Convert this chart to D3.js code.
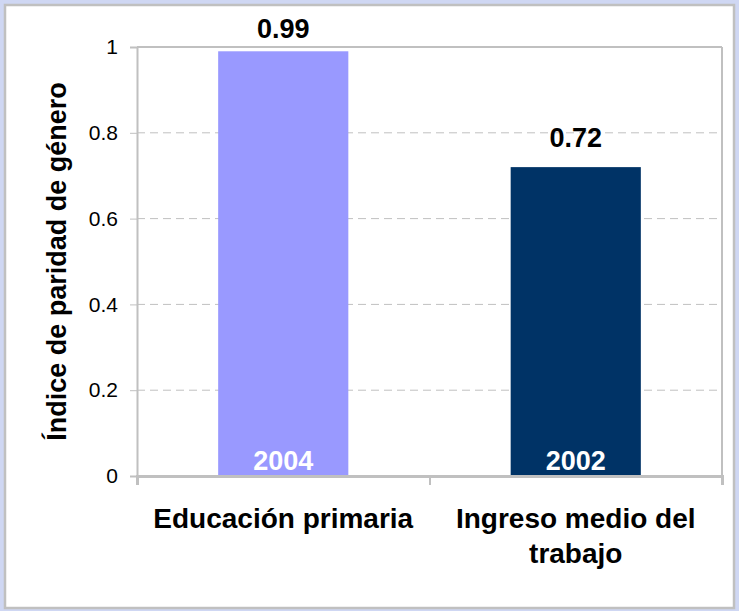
<!DOCTYPE html>
<html lang="es">
<head>
<meta charset="UTF-8">
<title>Índice de paridad de género</title>
<script src="https://d3js.org/d3.v7.min.js"></script>
<style>
  body { margin: 0; background: #cfd7f3; font-family: "Liberation Sans", Arial, sans-serif; }
  svg { display: block; }
  .grid line { stroke: #c0c0c0; stroke-dasharray: 8,5; }
</style>
</head>
<body>
<svg width="739" height="611"></svg>
<script>
// datos
const categories = ["Educación primaria", "Ingreso medio del trabajo"];
const values = [0.99, 0.72];
const years = ["2004", "2002"];
const colors = ["#9999ff", "#003366"];
const yTicks = [0, 0.2, 0.4, 0.6, 0.8, 1];
const catLines = [["Educación primaria"], ["Ingreso medio del", "trabajo"]];

const svg = d3.select("svg");
const font = "Liberation Sans, Arial, sans-serif";

// marco exterior
svg.append("rect").attr("x", 5).attr("y", 5).attr("width", 729).attr("height", 603)
  .attr("fill", "#fff").attr("stroke", "#c0c0c0").attr("stroke-width", 2.5);

const margin = { left: 137, top: 47, right: 17, bottom: 135 };
const width = 739 - margin.left - margin.right;
const height = 611 - margin.top - margin.bottom;

const g = svg.append("g").attr("transform", `translate(${margin.left},${margin.top})`);

const x = d3.scaleBand().domain(categories).range([0, width]).paddingInner(0.555).paddingOuter(0.2775);
const y = d3.scaleLinear().domain([0, 1]).range([height, 0]);

// rejilla
g.append("g").attr("class", "grid")
  .selectAll("line").data(yTicks.filter(d => d > 0 && d < 1)).enter().append("line")
  .attr("x1", 0).attr("x2", width).attr("y1", d => y(d)).attr("y2", d => y(d));

// borde del área de trazado
g.append("line").attr("x1", 0).attr("x2", width).attr("y1", 0).attr("y2", 0).attr("stroke", "#c0c0c0").attr("stroke-width", 2);
g.append("line").attr("x1", width).attr("x2", width).attr("y1", 0).attr("y2", height).attr("stroke", "#c0c0c0").attr("stroke-width", 2);

// barras
g.selectAll(".bar").data(categories).enter().append("rect")
  .attr("x", d => x(d)).attr("width", x.bandwidth())
  .attr("y", (d, i) => y(values[i])).attr("height", (d, i) => height - y(values[i]))
  .attr("fill", (d, i) => colors[i]);

// etiquetas de valor (la primera se ajusta dentro del gráfico)
g.selectAll(".val").data(categories).enter().append("text")
  .attr("x", d => x(d) + x.bandwidth() / 2)
  .attr("y", (d, i) => Math.max(y(values[i]) - 20, -9))
  .attr("text-anchor", "middle").attr("font-weight", "bold").attr("font-size", 27)
  .text((d, i) => values[i].toFixed(2));

// años
g.selectAll(".yr").data(categories).enter().append("text")
  .attr("x", d => x(d) + x.bandwidth() / 2)
  .attr("y", height - 6)
  .attr("text-anchor", "middle").attr("font-weight", "bold").attr("font-size", 27).attr("fill", "#fff")
  .text((d, i) => years[i]);

// eje Y
const yAxis = g.append("g").call(d3.axisLeft(y).tickValues(yTicks).tickFormat(d => String(d)).tickSize(7).tickPadding(12));
yAxis.select(".domain").attr("stroke", "#c0c0c0").attr("stroke-width", 2);
yAxis.selectAll(".tick line").attr("stroke", "#c0c0c0");
yAxis.selectAll(".tick text").attr("font-size", 21).attr("font-family", font).attr("fill", "#000");

// eje X
const xAxis = g.append("g").attr("transform", `translate(0,${height})`)
  .call(d3.axisBottom(d3.scaleLinear().domain([0, 2]).range([0, width])).tickValues([0, 1, 2]).tickSize(9).tickFormat(""));
xAxis.select(".domain").attr("stroke", "#c0c0c0").attr("stroke-width", 3);
xAxis.selectAll(".tick line").attr("stroke", "#c0c0c0").attr("stroke-width", 2);

// etiquetas de categoría
const cat = g.selectAll(".cat").data(categories).enter().append("text")
  .attr("text-anchor", "middle").attr("font-weight", "bold").attr("font-size", 28)
  .attr("transform", d => `translate(${x(d) + x.bandwidth() / 2},${height + 52})`);
cat.selectAll("tspan").data((d, i) => catLines[i]).enter().append("tspan")
  .attr("x", 0).attr("dy", (d, j) => j === 0 ? 0 : 35).text(d => d);

// título del eje Y
svg.append("text")
  .attr("transform", `translate(66,${margin.top + height / 2}) rotate(-90)`)
  .attr("text-anchor", "middle").attr("font-weight", "bold").attr("font-size", 27)
  .text("Índice de paridad de género");
</script>
</body>
</html>
